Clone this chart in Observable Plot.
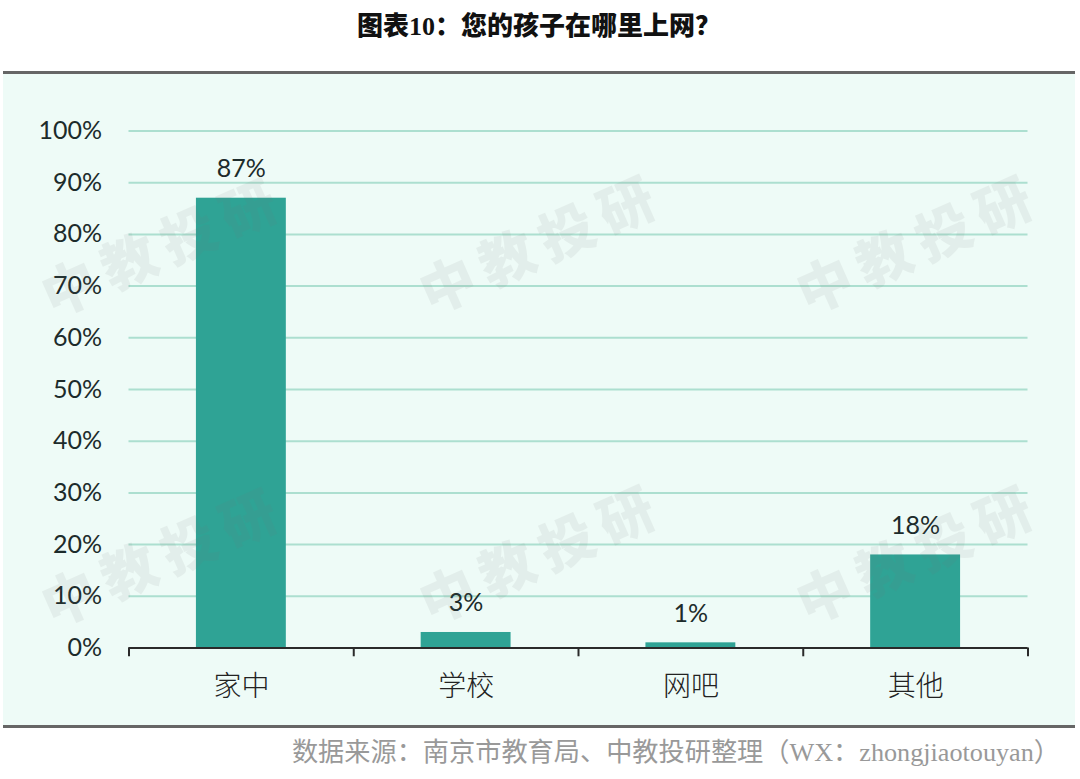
<!DOCTYPE html>
<html lang="zh">
<head>
<meta charset="utf-8">
<script src="https://cdn.jsdelivr.net/npm/d3@7"></script>
<script src="https://cdn.jsdelivr.net/npm/@observablehq/plot@0.6"></script>
<style>
html,body{margin:0;padding:0;background:#fff;}
#page{position:relative;width:1080px;height:779px;overflow:hidden;font-family:"Noto Sans CJK SC",sans-serif;}
#title{position:absolute;left:0;top:10px;width:1078px;text-align:center;font:900 26px/34px "Liberation Serif","Noto Sans CJK SC",serif;color:#111;}
#panel{position:absolute;left:3px;top:71px;width:1072px;height:657px;box-sizing:border-box;background:#EEFBF7;border-top:3px solid #666;border-bottom:3px solid #666;}
#chart{position:absolute;left:0;top:0;}
#chart svg{background:transparent;display:block;}
#caption{position:absolute;right:20px;top:735px;white-space:nowrap;font:400 26.2px/36px "Liberation Serif","Noto Sans CJK SC",serif;color:#999;}
.wm{position:absolute;width:320px;margin-left:-160px;margin-top:-35px;text-align:center;font:900 55px/70px "Noto Sans CJK SC",sans-serif;letter-spacing:10px;color:#777;opacity:.09;transform:rotate(-24deg);white-space:nowrap;}
</style>
</head>
<body>
<div id="page">
  <div id="title">图表10&#xFF1A;您的孩子在哪里上网&#xFF1F;</div>
  <div id="panel"></div>
  <div id="chart"></div>
  <div class="wm" style="left:162px;top:243px">中教投研</div>
  <div class="wm" style="left:540px;top:240px">中教投研</div>
  <div class="wm" style="left:917px;top:240px">中教投研</div>
  <div class="wm" style="left:162px;top:553px">中教投研</div>
  <div class="wm" style="left:540px;top:550px">中教投研</div>
  <div class="wm" style="left:917px;top:550px">中教投研</div>
  <div id="caption">数据来源&#xFF1A;南京市教育局、中教投研整理&#xFF08;WX&#xFF1A;zhongjiaotouyan&#xFF09;</div>
</div>
<script>
const categories = ["家中", "学校", "网吧", "其他"];
const shares = [87, 3, 1, 18];
const yTicks = [0, 10, 20, 30, 40, 50, 60, 70, 80, 90, 100];
const rows = categories.map((c, i) => ({category: c, share: shares[i]}));

const latin = "Lato, 'Open Sans', sans-serif";
const halfStep = 899 / 4 / 2;

const plot = Plot.plot({
  width: 1080,
  height: 779,
  marginTop: 130.5,
  marginBottom: 131.5,
  marginLeft: 128.5,
  marginRight: 52.5,
  style: {background: "transparent", overflow: "visible"},
  x: {domain: categories, paddingInner: 0.6, paddingOuter: 0.3, round: false, label: null},
  y: {domain: [0, 100], label: null},
  marks: [
    Plot.ruleY(yTicks.filter(t => t > 0), {y: d => d, stroke: "#ACDFD0", strokeWidth: 2}),
    Plot.barY(rows, {x: "category", y: "share", fill: "#2FA395"}),
    Plot.axisY({ticks: yTicks, tickSize: 0, tickPadding: 27, tickFormat: d => d + "%",
      fontSize: 25, fontFamily: latin, fill: "#1c2b2b", label: null}),
    Plot.axisX({tickSize: 0, tickPadding: 28, fontSize: 28, fontWeight: 300,
      fontFamily: "'Noto Sans CJK SC', sans-serif", fill: "#222", label: null}),
    Plot.ruleY([0], {stroke: "#2a2a2a", strokeWidth: 2}),
    Plot.ruleX(categories, {x: d => d, y1: 0, y2: -1.7, dx: -halfStep, stroke: "#2a2a2a", strokeWidth: 2}),
    Plot.ruleX(categories.slice(-1), {x: d => d, y1: 0, y2: -1.7, dx: halfStep, stroke: "#2a2a2a", strokeWidth: 2}),
    Plot.text(rows, {x: "category", y: "share", text: d => d.share + "%", dy: -29,
      fontSize: 25, fontFamily: latin, fill: "#1c2b2b"})
  ]
});
document.getElementById("chart").appendChild(plot);
</script>
</body>
</html>
